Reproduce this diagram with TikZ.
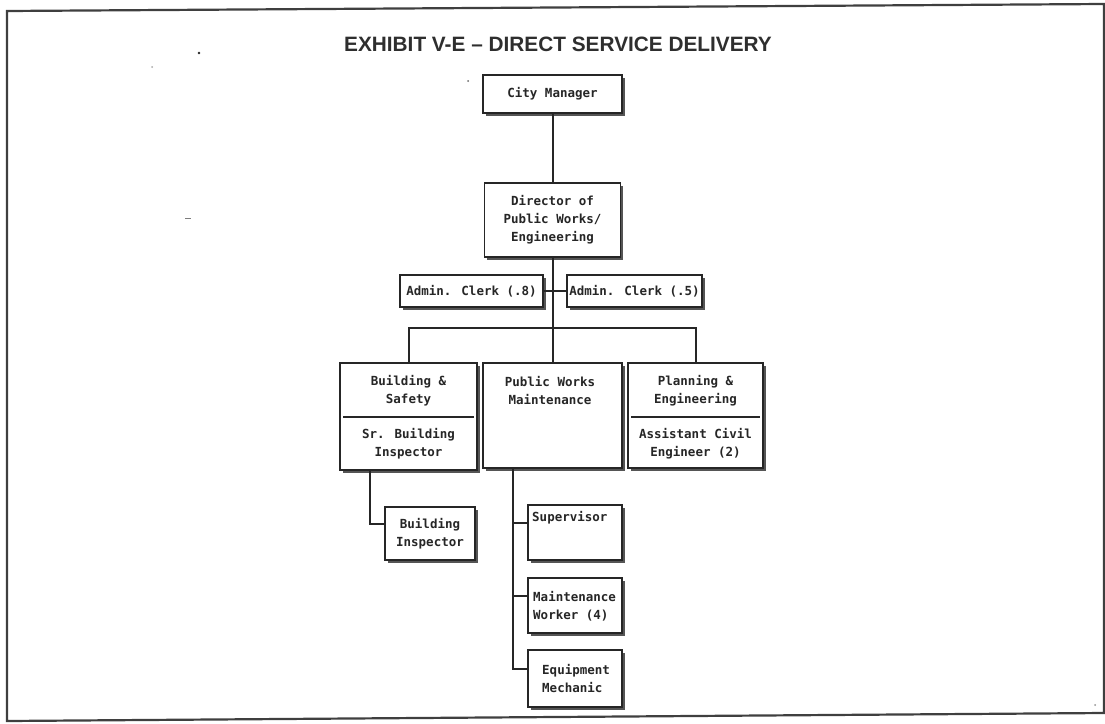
\documentclass[tikz,border=0pt]{standalone}
\usepackage{fontspec}
\setmainfont{Liberation Sans}
\newfontfamily\boxfont{DejaVu Sans Mono}
\usetikzlibrary{shadows}

\definecolor{ink}{HTML}{262626}
\definecolor{shade}{HTML}{555555}
\definecolor{titleink}{HTML}{2E2E2E}
\definecolor{frameink}{HTML}{3F3F3F}

\newcommand\boxtext{\boxfont\bfseries\fontsize{12.5}{18}\selectfont}

\tikzset{
  orgbox/.style={rectangle, draw=ink, line width=1.8pt, fill=white, inner sep=0pt,
    drop shadow={shadow xshift=2.5pt, shadow yshift=-2.5pt, fill=shade, opacity=1},
    font=\boxtext, align=center, text=ink},
  wire/.style={draw=ink, line width=2pt},
  divider/.style={draw=ink, line width=1.8pt, shorten <=4pt, shorten >=4pt},
  lbl/.style={font=\boxtext, align=center, text=ink, inner sep=0pt},
  speck/.style={fill=ink, draw=none},
}

\begin{document}
\begin{tikzpicture}[x=1pt, y=-1pt]
\useasboundingbox (0,0) rectangle (1105,723);

% page frame
\draw[frameink, line width=2.2pt] (7,11) -- (1104,4) -- (1104,713) -- (7,721) -- cycle;

% heading
\node[font=\bfseries\fontsize{20.8}{24}\selectfont, text=titleink, anchor=base, inner sep=0pt]
  (title) at (558,51.5) {EXHIBIT V-E – DIRECT SERVICE DELIVERY};

% top of the chart
\node[orgbox, minimum width=139pt, minimum height=38pt] (cm) at (552.5,94) {City Manager};
\node[orgbox, minimum width=136pt, minimum height=74pt] (dir) at (552.5,220)
  {Director of\\Public Works/\\Engineering};
\node[orgbox, minimum width=143pt, minimum height=32pt] (ac8) at (471.5,291) {Admin. Clerk (.8)};
\node[orgbox, minimum width=135pt, minimum height=32pt] (ac5) at (634.5,291) {Admin. Clerk (.5)};

% divisions
\node[orgbox, minimum width=137pt, minimum height=107pt] (bs) at (408.5,416.5) {};
\node[orgbox, minimum width=139pt, minimum height=105pt] (pw) at (552.5,415.5) {};
\node[orgbox, minimum width=135pt, minimum height=105pt] (pe) at (695.5,415.5) {};

\draw[divider] (bs.west |- 0,417) -- (bs.east |- 0,417);
\draw[divider] (pe.west |- 0,417) -- (pe.east |- 0,417);

\node[lbl] (bstop) at (408.5,391) {Building \&\\Safety};
\node[lbl] (bsbot) at (408.5,443.5) {Sr. Building\\Inspector};
\node[lbl] (pwtxt) at (550,391) {Public Works\\Maintenance};
\node[lbl] (petop) at (695.5,391) {Planning \&\\Engineering};
\node[lbl] (pebot) at (695.5,443.5) {Assistant Civil\\Engineer (2)};

% staff under the divisions
\node[orgbox, minimum width=90pt, minimum height=53pt] (bi) at (430,533.5) {Building\\Inspector};
\node[orgbox, minimum width=94pt, minimum height=55pt] (sup) at (575,532.5) {};
\node[orgbox, minimum width=94pt, minimum height=55pt] (mw) at (575,605.5) {};
\node[orgbox, minimum width=94pt, minimum height=57pt] (em) at (575,678.5) {};

\node[lbl, anchor=west] (suptxt) at (532,518) {Supervisor};
\node[lbl, anchor=west, align=left] (mwtxt) at (533,606) {Maintenance\\Worker (4)};
\node[lbl, anchor=west, align=left] (emtxt) at (542,678) {Equipment\\Mechanic};

% reporting lines
\coordinate (bus) at (552.5,328);
\draw[wire] (cm.south) -- (dir.north);
\draw[wire] (dir.south) -- (pw.north);
\draw[wire] (ac8.east) -- (ac5.west);
\draw[wire] (bs.north) |- (bus) -| (pe.north);
\draw[wire] (bs.south -| 370,0) |- ([yshift=10pt]bi.west);
\draw[wire] (pw.south -| 513,0) |- ([yshift=10pt]em.west);
\draw[wire] ([yshift=10pt]sup.west) -- ++(-15,0);
\draw[wire] ([yshift=10pt]mw.west) -- ++(-15,0);

% specks on the sheet
\fill[speck] (199,53) circle (1.3pt);
\fill[speck, opacity=0.4] (152,67) circle (1pt);
\fill[speck, opacity=0.6] (185,217.5) rectangle (191,219);
\fill[speck, opacity=0.7] (468,81) circle (1pt);
\fill[speck, opacity=0.5] (1095,705) circle (1pt);
\end{tikzpicture}
\end{document}
